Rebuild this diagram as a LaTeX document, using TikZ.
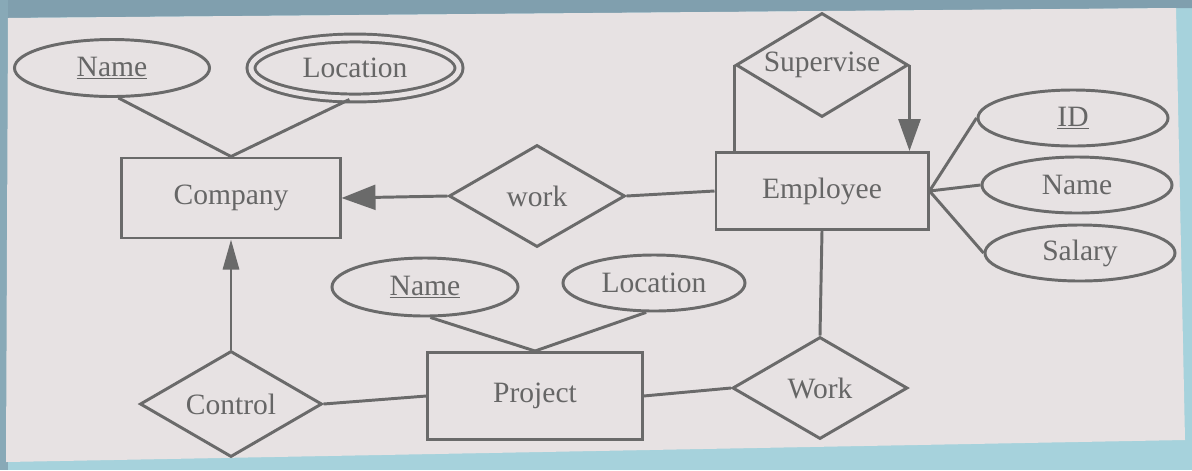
\documentclass[tikz,border=0pt]{standalone}
\usepackage{fontspec}
\setmainfont{Liberation Serif}
\usetikzlibrary{shapes.geometric,arrows.meta}
\definecolor{paper}{HTML}{E7E2E3}
\definecolor{ink}{HTML}{6A6A6A}
\definecolor{txt}{HTML}{666666}
\definecolor{frameblue}{HTML}{A6D2DC}
\definecolor{topband}{HTML}{809FAE}
\tikzset{
  base/.style={draw=ink, line width=2.1pt, text=txt, inner sep=0pt,
    font=\fontsize{21}{24}\selectfont},
  entity/.style={base, rectangle},
  attr/.style={base, ellipse},
  mattr/.style={base, ellipse, double=paper, double distance=3.5pt},
  rel/.style={base, diamond, aspect=1.7},
  conn/.style={draw=ink, line width=2.1pt},
  bigtip/.style={-{Triangle[length=0.85cm,width=0.62cm]}},
}
\begin{document}
\begin{tikzpicture}[x=0.025cm,y=-0.025cm]
% background (photo frame and paper)
\fill[frameblue] (0,0) rectangle (1192,470);
\fill[topband] (0,0) -- (1192,0) -- (1192,8) -- (0,18) -- cycle;
\fill[topband!80!frameblue] (0,0) -- (8,0) -- (8,470) -- (0,470) -- cycle;
\fill[paper] (8,18) -- (1176,8) -- (1185,440) -- (6,462) -- cycle;
\useasboundingbox (0,0) rectangle (1192,470);

% Company side
\node[attr, minimum width=4.875cm, minimum height=1.425cm] (nameC) at (112,68) {\underline{Name}};
\node[mattr, minimum width=5.2cm, minimum height=1.5cm] (locC) at (355,68) {Location};
\node[entity, minimum width=5.45cm, minimum height=2.0cm] (company) at (231,198) {Company};
\node[rel, minimum width=4.4cm, minimum height=2.55cm] (work) at (537,196) {work};

% Employee side
\node[entity, minimum width=5.3cm, minimum height=1.925cm] (employee) at (822,191) {Employee};
\node[rel, minimum width=4.3cm, minimum height=2.6cm] (supervise) at (822,65) {Supervise};
\node[attr, minimum width=4.75cm, minimum height=1.4cm] (idE) at (1073,118) {\underline{ID}};
\node[attr, minimum width=4.75cm, minimum height=1.4cm] (nameE) at (1077,185) {Name};
\node[attr, minimum width=4.75cm, minimum height=1.4cm] (salary) at (1080,253) {Salary};

% Project side
\node[rel, minimum width=4.375cm, minimum height=2.55cm] (workP) at (820,388) {Work};
\node[entity, minimum width=5.35cm, minimum height=2.175cm] (project) at (535,396) {Project};
\node[attr, minimum width=4.65cm, minimum height=1.45cm] (nameP) at (425,287) {\underline{Name}};
\node[attr, minimum width=4.55cm, minimum height=1.4cm] (locP) at (654,283) {Location};
\node[rel, minimum width=4.55cm, minimum height=2.65cm] (control) at (231,404) {Control};

% connectors
\draw[conn] (nameC.-78) -- (company.north);
\draw[conn] (locC.-100) -- (company.north);
\draw[conn, bigtip] (work.west) -- (company.east);
\draw[conn] (work.east) -- (employee.west);
\draw[conn] (supervise.west) -- (supervise.west |- employee.north);
\draw[conn, -{Triangle[length=0.8cm,width=0.55cm]}] (supervise.east) -- (supervise.east |- employee.north);
\draw[conn] (employee.east) -- (idE.west);
\draw[conn] (employee.east) -- (nameE.west);
\draw[conn] (employee.east) -- (salary.west);
\draw[conn] (employee.south) -- (workP.north);
\draw[conn] (nameP.-80) -- (project.north);
\draw[conn] (locP.-105) -- (project.north);
\draw[conn] (project.east) -- (workP.west);
\draw[conn] (control.east) -- (project.west);
\draw[conn, -{Triangle[length=0.75cm,width=0.4cm]}] (control.north) -- (company.south);
\end{tikzpicture}
\end{document}
